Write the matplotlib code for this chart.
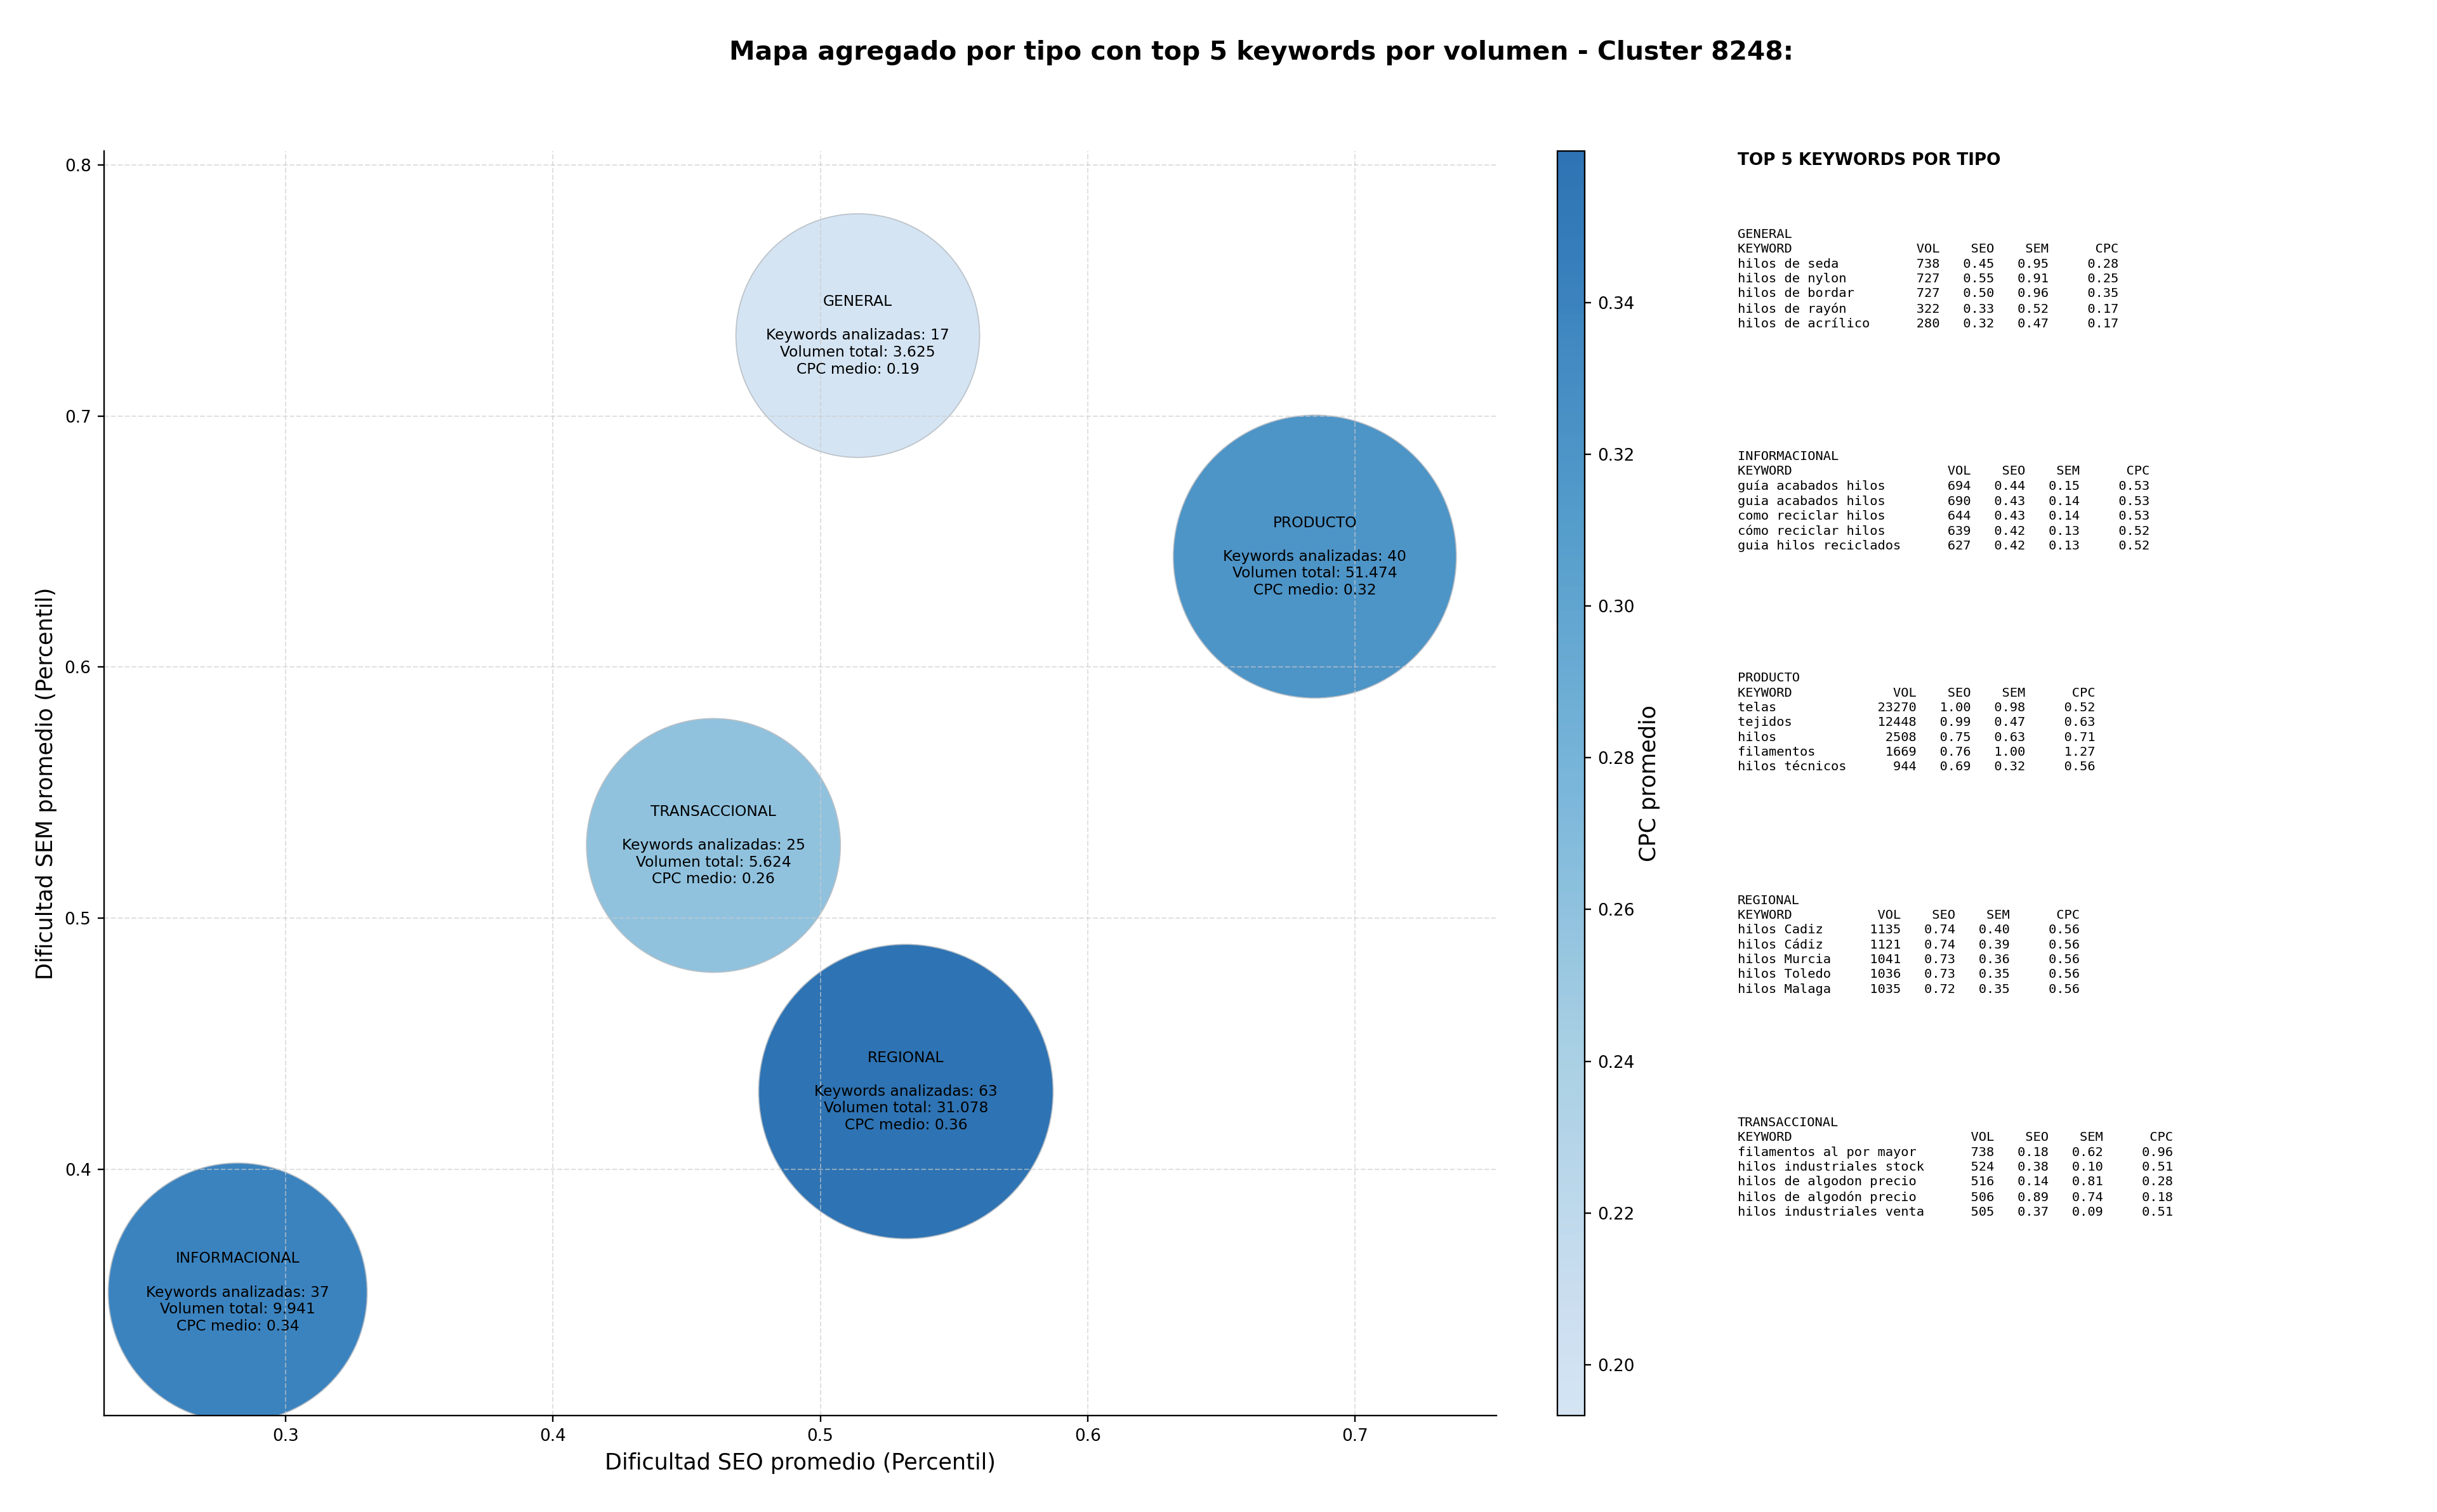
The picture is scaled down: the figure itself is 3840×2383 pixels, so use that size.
import numpy as np
import matplotlib
matplotlib.use("Agg")
import matplotlib.pyplot as plt
from matplotlib.colors import LinearSegmentedColormap, Normalize

# ---------------- data ----------------
tipos = ["GENERAL", "INFORMACIONAL", "PRODUCTO", "REGIONAL", "TRANSACCIONAL"]
seo_medio = [0.514, 0.282, 0.685, 0.532, 0.460]
sem_medio = [0.732, 0.351, 0.644, 0.431, 0.529]
n_keywords = [17, 37, 40, 63, 25]
volumen_total = [3625, 9941, 51474, 31078, 5624]
cpc_medio = [0.1933, 0.34, 0.32, 0.36, 0.26]

top_keywords = {
    "GENERAL": ["hilos de seda", "hilos de nylon", "hilos de bordar", "hilos de rayón", "hilos de acrílico"],
    "INFORMACIONAL": ["guía acabados hilos", "guia acabados hilos", "como reciclar hilos", "cómo reciclar hilos", "guia hilos reciclados"],
    "PRODUCTO": ["telas", "tejidos", "hilos", "filamentos", "hilos técnicos"],
    "REGIONAL": ["hilos Cadiz", "hilos Cádiz", "hilos Murcia", "hilos Toledo", "hilos Malaga"],
    "TRANSACCIONAL": ["filamentos al por mayor", "hilos industriales stock", "hilos de algodon precio", "hilos de algodón precio", "hilos industriales venta"],
}
top_vol = {
    "GENERAL": [738, 727, 727, 322, 280],
    "INFORMACIONAL": [694, 690, 644, 639, 627],
    "PRODUCTO": [23270, 12448, 2508, 1669, 944],
    "REGIONAL": [1135, 1121, 1041, 1036, 1035],
    "TRANSACCIONAL": [738, 524, 516, 506, 505],
}
top_seo = {
    "GENERAL": [0.45, 0.55, 0.50, 0.33, 0.32],
    "INFORMACIONAL": [0.44, 0.43, 0.43, 0.42, 0.42],
    "PRODUCTO": [1.00, 0.99, 0.75, 0.76, 0.69],
    "REGIONAL": [0.74, 0.74, 0.73, 0.73, 0.72],
    "TRANSACCIONAL": [0.18, 0.38, 0.14, 0.89, 0.37],
}
top_sem = {
    "GENERAL": [0.95, 0.91, 0.96, 0.52, 0.47],
    "INFORMACIONAL": [0.15, 0.14, 0.14, 0.13, 0.13],
    "PRODUCTO": [0.98, 0.47, 0.63, 1.00, 0.32],
    "REGIONAL": [0.40, 0.39, 0.36, 0.35, 0.35],
    "TRANSACCIONAL": [0.62, 0.10, 0.81, 0.74, 0.09],
}
top_cpc = {
    "GENERAL": [0.28, 0.25, 0.35, 0.17, 0.17],
    "INFORMACIONAL": [0.53, 0.53, 0.53, 0.52, 0.52],
    "PRODUCTO": [0.52, 0.63, 0.71, 1.27, 0.56],
    "REGIONAL": [0.56, 0.56, 0.56, 0.56, 0.56],
    "TRANSACCIONAL": [0.96, 0.51, 0.28, 0.18, 0.51],
}

# ---------------- style ----------------
DPI = 210
marker_area = [17330, 19570, 23380, 25310, 18810]

base = plt.get_cmap("Blues")
cmap = LinearSegmentedColormap.from_list("blues_trunc", base(np.linspace(0.2, 0.8, 256)))
norm = Normalize(vmin=min(cpc_medio), vmax=max(cpc_medio))

fig = plt.figure(figsize=(3840 / DPI, 2383 / DPI), dpi=DPI)
ax = fig.add_axes([0.0427, 0.0638, 0.5714, 0.8365])
cax = fig.add_axes([0.639, 0.0638, 0.0112, 0.8365])

sc = ax.scatter(seo_medio, sem_medio, s=marker_area, c=cpc_medio, cmap=cmap, norm=norm,
                alpha=0.9, edgecolors="#b8bec4", linewidths=0.6, zorder=1)

for i, t in enumerate(tipos):
    vol_txt = f"{volumen_total[i]:,}".replace(",", ".")
    label = f"{t}\n\nKeywords analizadas: {n_keywords[i]}\nVolumen total: {vol_txt}\nCPC medio: {cpc_medio[i]:.2f}"
    ax.text(seo_medio[i], sem_medio[i], label, ha="center", va="center", fontsize=8, zorder=3)

ax.set_xlim(0.232, 0.753)
ax.set_ylim(0.302, 0.8056)
ax.set_xticks([0.3, 0.4, 0.5, 0.6, 0.7])
ax.set_yticks([0.4, 0.5, 0.6, 0.7, 0.8])
ax.set_xticklabels(["0.3", "0.4", "0.5", "0.6", "0.7"])
ax.set_yticklabels(["0.4", "0.5", "0.6", "0.7", "0.8"])
ax.tick_params(labelsize=9)
ax.grid(True, linestyle="--", color="#cccccc", alpha=0.6, linewidth=0.7)
ax.spines["top"].set_visible(False)
ax.spines["right"].set_visible(False)
ax.set_xlabel("Dificultad SEO promedio (Percentil)", fontsize=12)
ax.set_ylabel("Dificultad SEM promedio (Percentil)", fontsize=12)

cb = fig.colorbar(sc, cax=cax)
cb_ticks = [0.20, 0.22, 0.24, 0.26, 0.28, 0.30, 0.32, 0.34]
cb.set_ticks(cb_ticks)
cb.ax.set_yticklabels([f"{v:.2f}" for v in cb_ticks])
cb.ax.tick_params(labelsize=9)
cb.set_label("CPC promedio", fontsize=12, labelpad=2)

fig.text(0.5175, 0.965, "Mapa agregado por tipo con top 5 keywords por volumen - Cluster 8248:",
         ha="center", va="center", fontsize=14, fontweight="bold")

# side panel
fig.text(0.713, 0.894, "TOP 5 KEYWORDS POR TIPO", ha="left", va="center", fontsize=9, fontweight="bold")
block_tops = [0.849, 0.702, 0.5555, 0.4085, 0.2615]
for t, ytop in zip(tipos, block_tops):
    kws = top_keywords[t]
    w = max(len(k) for k in kws)
    lines = [t, f"{'KEYWORD':<{w}} {'VOL':>8} {'SEO':>6} {'SEM':>6} {'CPC':>8}"]
    for k, v, s1, s2, c in zip(kws, top_vol[t], top_seo[t], top_sem[t], top_cpc[t]):
        lines.append(f"{k:<{w}} {v:>8} {s1:>6.2f} {s2:>6.2f} {c:>8.2f}")
    fig.text(0.713, ytop, "\n".join(lines), ha="left", va="top", fontsize=7,
             family="DejaVu Sans Mono", linespacing=1.29)

fig.savefig("out.png", dpi=DPI)
